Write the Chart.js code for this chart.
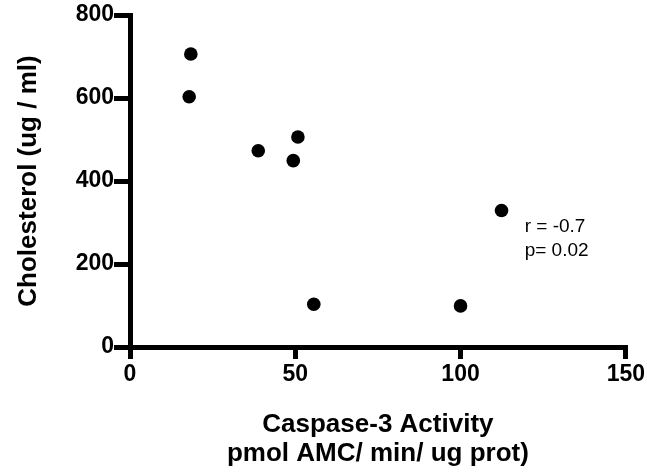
<!DOCTYPE html>
<html>
<head>
<meta charset="utf-8">
<script src="https://cdn.jsdelivr.net/npm/chart.js@4/dist/chart.umd.min.js"></script>
<style>
  html, body { margin: 0; padding: 0; background: #fff; }
  #wrap { width: 647px; height: 474px; }
</style>
</head>
<body>
<div id="wrap"><canvas id="c" width="647" height="474"></canvas></div>
<script>
// Caspase-3 activity vs cholesterol, one point per sample
const caspaseActivity = [18.4, 17.9, 38.8, 50.8, 49.4, 55.6, 100.0, 112.4];
const cholesterol     = [706, 603, 473, 506, 449, 103, 99, 329];

const xTicks = [0, 50, 100, 150];
const yTicks = [0, 200, 400, 600, 800];

const xTitle = ['Caspase-3 Activity', 'pmol AMC/ min/ ug prot)'];
const yTitle = 'Cholesterol (ug / ml)';

// correlation note, anchored in data units
const statLines = ['r = -0.7', 'p= 0.02'];
const statAnchor = { x: 119.4, y: 289 };

const FONT = '"Liberation Sans", Arial, Helvetica, sans-serif';

const points = caspaseActivity.map((x, i) => ({ x, y: cholesterol[i] }));

const statsNote = {
  id: 'statsNote',
  afterDatasetsDraw(chart) {
    const { ctx, scales } = chart;
    const px = scales.x.getPixelForValue(statAnchor.x);
    const py = scales.y.getPixelForValue(statAnchor.y);
    ctx.save();
    ctx.fillStyle = '#000';
    ctx.font = '19px ' + FONT;
    ctx.textAlign = 'left';
    ctx.textBaseline = 'middle';
    statLines.forEach((t, i) => ctx.fillText(t, px, py + i * 24));
    ctx.restore();
  }
};

const axisStyle = (tickLength) => ({
  grid: {
    display: true,
    drawOnChartArea: false,
    drawTicks: true,
    tickLength,
    color: '#000',
    lineWidth: 5,
    tickWidth: 5
  },
  border: { display: true, color: '#000', width: 5 },
});

new Chart(document.getElementById('c'), {
  type: 'scatter',
  data: {
    datasets: [{
      data: points,
      backgroundColor: '#000',
      borderColor: '#000',
      borderWidth: 0,
      pointRadius: 6.8,
      pointHoverRadius: 6.8
    }]
  },
  options: {
    responsive: false,
    animation: false,
    events: [],
    layout: { padding: { top: 15, right: 21, bottom: 0, left: 0 } },
    plugins: {
      legend: { display: false },
      tooltip: { enabled: false }
    },
    scales: {
      x: {
        ...axisStyle(12),
        type: 'linear',
        min: xTicks[0],
        max: xTicks[xTicks.length - 1],
        afterBuildTicks(scale) { scale.ticks = xTicks.map(v => ({ value: v })); },
        afterFit(scale) { scale.height = 127; },
        ticks: {
          color: '#000',
          padding: 2,
          maxRotation: 0,
          font: { family: FONT, size: 23, weight: 'bold' }
        },
        title: {
          display: true,
          text: xTitle,
          color: '#000',
          padding: { top: 0, bottom: 6 },
          font: { family: FONT, size: 26, weight: 'bold', lineHeight: 1.1 }
        }
      },
      y: {
        ...axisStyle(16),
        type: 'linear',
        min: yTicks[0],
        max: yTicks[yTicks.length - 1],
        afterBuildTicks(scale) { scale.ticks = yTicks.map(v => ({ value: v })); },
        afterFit(scale) { scale.width = 130; },
        ticks: {
          color: '#000',
          padding: 0,
          font: { family: FONT, size: 23, weight: 'bold' }
        },
        title: {
          display: true,
          text: yTitle,
          color: '#000',
          padding: { top: 14.7, bottom: 0 },
          font: { family: FONT, size: 26, weight: 'bold', lineHeight: 1.1 }
        }
      }
    }
  },
  plugins: [statsNote]
});
</script>
</body>
</html>
